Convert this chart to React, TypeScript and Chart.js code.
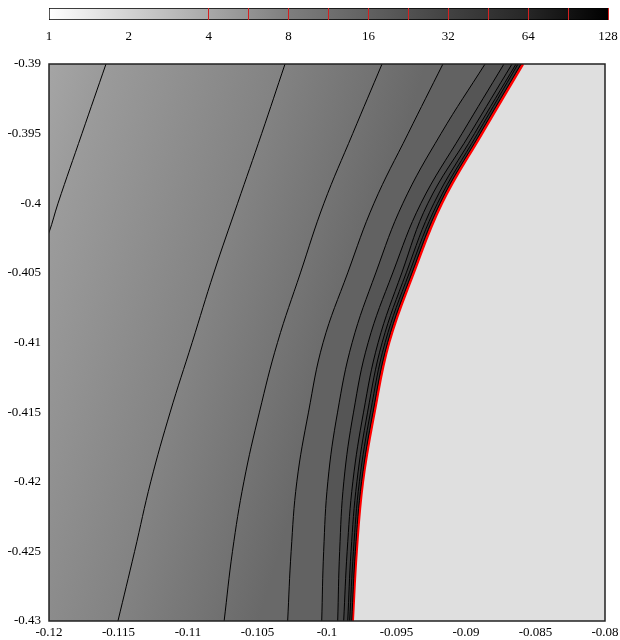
import React, { useEffect, useRef } from 'react';
import { Chart, registerables } from 'chart.js';

Chart.register(...registerables);

// ---------- data ----------
// y positions (shared) at which the contour x-positions were read
const Y_LEVELS = [-0.39, -0.395, -0.4, -0.405, -0.41, -0.415, -0.42, -0.425, -0.43];

// contour level values (colour-bar units), left to right
const CONTOUR_LEVELS = [4, 5.657, 8, 11.31, 16, 22.63, 32, 45.25, 64, 90.51];

// contour A leaves the plot through the left edge
const CONTOUR_A_Y = [-0.39, -0.395, -0.4, -0.4021, -0.4035];
const CONTOUR_A_X = [-0.1159, -0.11763, -0.11935, -0.12, -0.1206];
const CONTOUR_B_X = [-0.10302, -0.1047, -0.10643, -0.10814, -0.1097, -0.11128, -0.11268, -0.11384, -0.11504];
const CONTOUR_C_X = [-0.09604, -0.09815, -0.10022, -0.10191, -0.10356, -0.10486, -0.10598, -0.1068, -0.1074];
const CONTOUR_D_X = [-0.09166, -0.09417, -0.09662, -0.09851, -0.10028, -0.10133, -0.10217, -0.10258, -0.10283];
const CONTOUR_E_X = [-0.08863, -0.0918, -0.09454, -0.09649, -0.09819, -0.09924, -0.09994, -0.10024, -0.10038];
const CONTOUR_F_X = [-0.08727, -0.09029, -0.09324, -0.09527, -0.09704, -0.09809, -0.09879, -0.09909, -0.09923];
const CONTOUR_G_X = [-0.08669, -0.08971, -0.09274, -0.09462, -0.09632, -0.09737, -0.09814, -0.09855, -0.0988];
const CONTOUR_H_X = [-0.0864, -0.08939, -0.09231, -0.0943, -0.09603, -0.09708, -0.09785, -0.09827, -0.09851];
const CONTOUR_I_X = [-0.08626, -0.08917, -0.09205, -0.09408, -0.09582, -0.09687, -0.09767, -0.0981, -0.09837];
const CONTOUR_J_X = [-0.08604, -0.08899, -0.09187, -0.09389, -0.09564, -0.09669, -0.09751, -0.09796, -0.09822];
// red boundary of the defined region
const BOUNDARY_X = [-0.0859, -0.08885, -0.09173, -0.09376, -0.09553, -0.09658, -0.09742, -0.09787, -0.09815];

// colour bar
const CB_MIN = 1;
const CB_MAX = 128;
const CB_LABELS = [1, 2, 4, 8, 16, 32, 64, 128];
const CB_TICKS = [1, 1.414, 2, 2.828, 4, 5.657, 8, 11.31, 16, 22.63, 32, 45.25, 64, 90.51, 128];
const CB_STOP_VALUES = [1, 2, 4, 8, 16, 32, 64, 128];
const CB_STOP_GRAYS = [255, 210, 168, 126, 97, 66, 38, 0];

// ---------- styles ----------
const FONT = { family: "'Liberation Serif', 'Times New Roman', serif", size: 13 };
const SHADE_COLORS = ['#a5a5a5', '#9b9b9b', '#838383', '#737373', '#696969'];
const BAND_SOLIDS = ['#626262', '#555555', '#4a4a4a', '#424242', '#3b3b3b', '#353535', '#2e2e2e'];

const CONTOURS = [
  { xs: CONTOUR_A_X, ys: CONTOUR_A_Y },
  { xs: CONTOUR_B_X, ys: Y_LEVELS },
  { xs: CONTOUR_C_X, ys: Y_LEVELS },
  { xs: CONTOUR_D_X, ys: Y_LEVELS },
  { xs: CONTOUR_E_X, ys: Y_LEVELS },
  { xs: CONTOUR_F_X, ys: Y_LEVELS },
  { xs: CONTOUR_G_X, ys: Y_LEVELS },
  { xs: CONTOUR_H_X, ys: Y_LEVELS },
  { xs: CONTOUR_I_X, ys: Y_LEVELS },
  { xs: CONTOUR_J_X, ys: Y_LEVELS },
  { xs: BOUNDARY_X, ys: Y_LEVELS },
];

function shadeGradient(chart: any): any {
  const area = chart.chartArea;
  const sx = chart.scales && chart.scales.x;
  const sy = chart.scales && chart.scales.y;
  if (!area || !sx || !sy) return SHADE_COLORS[2];
  const px = (x: number, y: number) => [sx.getPixelForValue(x), sy.getPixelForValue(y)];
  const b0 = px(CONTOUR_B_X[0], Y_LEVELS[0]);
  const b1 = px(CONTOUR_B_X[CONTOUR_B_X.length - 1], Y_LEVELS[Y_LEVELS.length - 1]);
  let dx = b1[1] - b0[1];
  let dy = -(b1[0] - b0[0]);
  const len = Math.hypot(dx, dy) || 1;
  dx /= len;
  dy /= len;
  const proj = (p: number[]) => p[0] * dx + p[1] * dy;
  const s0 = proj([area.left, area.top]);
  const avgProj = (c: { xs: number[]; ys: number[] }) => {
    let sum = 0;
    let n = 0;
    c.xs.forEach((x, i) => {
      if (x >= -0.12) {
        sum += proj(px(x, c.ys[i]));
        n++;
      }
    });
    return n ? sum / n : s0;
  };
  const stops = [s0, avgProj(CONTOURS[0]), avgProj(CONTOURS[1]), avgProj(CONTOURS[2]), avgProj(CONTOURS[3])];
  const L = stops[4] - s0;
  const g = chart.ctx.createLinearGradient(area.left, area.top, area.left + dx * L, area.top + dy * L);
  stops.forEach((s, i) => g.addColorStop(Math.min(1, Math.max(0, (s - s0) / L)), SHADE_COLORS[i]));
  return g;
}

function bandColor(index: number) {
  return (ctx: any) => (index <= 3 ? shadeGradient(ctx.chart) : BAND_SOLIDS[index - 4]);
}

function cbGradient(ctx: any): any {
  const chart = ctx.chart;
  const area = chart.chartArea;
  const sx = chart.scales && chart.scales.x;
  if (!area || !sx) return '#888';
  const g = chart.ctx.createLinearGradient(area.left, 0, area.right, 0);
  CB_STOP_VALUES.forEach((v, i) => {
    const t = (sx.getPixelForValue(v) - area.left) / (area.right - area.left);
    const c = CB_STOP_GRAYS[i];
    g.addColorStop(Math.min(1, Math.max(0, t)), `rgb(${c},${c},${c})`);
  });
  return g;
}

const fmt = (v: any) => String(parseFloat(Number(v).toFixed(4)));

const plotBackground = {
  id: 'plotBackground',
  beforeDatasetsDraw(chart: any) {
    const { ctx, chartArea: a } = chart;
    ctx.save();
    ctx.fillStyle = '#dfdfdf';
    ctx.fillRect(a.left, a.top, a.right - a.left, a.bottom - a.top);
    ctx.restore();
  },
};

const plotFrame = {
  id: 'plotFrame',
  afterDatasetsDraw(chart: any) {
    const { ctx, chartArea: a } = chart;
    ctx.save();
    ctx.strokeStyle = '#222';
    ctx.lineWidth = 1.5;
    ctx.strokeRect(a.left, a.top, a.right - a.left, a.bottom - a.top);
    ctx.restore();
  },
};

const HIDDEN = 'rgba(0,0,0,0)';

export default function App() {
  const mainRef = useRef<HTMLCanvasElement>(null);
  const barRef = useRef<HTMLCanvasElement>(null);

  useEffect(() => {
    if (!mainRef.current || !barRef.current) return;

    const datasets = CONTOURS.map((c, i) => {
      const isBoundary = i === CONTOURS.length - 1;
      return {
        label: isBoundary ? 'boundary' : `level ${CONTOUR_LEVELS[i]}`,
        data: c.xs.map((x, k) => ({ x, y: c.ys[k] })),
        borderColor: isBoundary ? '#ff0000' : '#000000',
        borderWidth: isBoundary ? 2.5 : 1,
        pointRadius: 0,
        tension: 0.4,
        fill: { target: { value: -0.125 } },
        backgroundColor: bandColor(i),
      };
    });

    const main = new Chart(mainRef.current, {
      type: 'line',
      data: { datasets } as any,
      options: {
        responsive: false,
        animation: false,
        devicePixelRatio: 1,
        indexAxis: 'y',
        layout: { padding: { left: 0, right: 15, top: 64, bottom: 0 } },
        plugins: { legend: { display: false }, tooltip: { enabled: false } },
        scales: {
          x: {
            type: 'linear',
            min: -0.12,
            max: -0.08,
            position: 'bottom',
            grid: { drawOnChartArea: false, drawTicks: true, tickLength: 4, tickColor: HIDDEN, color: HIDDEN },
            border: { display: false },
            ticks: { stepSize: 0.005, padding: 0, maxRotation: 0, autoSkip: false, color: '#000', font: FONT, callback: fmt },
            afterFit: (s: any) => {
              s.height = 19;
            },
          },
          y: {
            type: 'linear',
            min: -0.43,
            max: -0.39,
            position: 'left',
            grid: { display: false, drawTicks: false },
            border: { display: false },
            ticks: { stepSize: 0.005, padding: 8, autoSkip: false, color: '#000', font: FONT, callback: fmt },
            afterFit: (s: any) => {
              s.width = 49;
            },
          },
        },
      } as any,
      plugins: [plotBackground, plotFrame],
    });

    const bar = new Chart(barRef.current, {
      type: 'bar',
      data: {
        labels: [''],
        datasets: [
          {
            data: [[CB_MIN, CB_MAX]],
            backgroundColor: cbGradient,
            borderColor: '#000',
            borderWidth: 1,
            borderSkipped: false,
            barPercentage: 1,
            categoryPercentage: 1,
          },
        ],
      } as any,
      options: {
        responsive: false,
        animation: false,
        devicePixelRatio: 1,
        indexAxis: 'y',
        layout: { padding: { left: 49, right: 12, top: 8, bottom: 0 } },
        plugins: { legend: { display: false }, tooltip: { enabled: false } },
        scales: {
          x: {
            type: 'logarithmic',
            min: CB_MIN,
            max: CB_MAX,
            position: 'bottom',
            afterBuildTicks: (s: any) => {
              s.ticks = CB_TICKS.map((v) => ({ value: v }));
            },
            ticks: {
              autoSkip: false,
              maxRotation: 0,
              padding: 0,
              color: '#000',
              font: FONT,
              callback: (v: any) => (CB_LABELS.includes(Number(v)) ? String(v) : ''),
            },
            grid: {
              z: 1,
              drawTicks: true,
              tickLength: 9,
              tickColor: HIDDEN,
              lineWidth: 1,
              color: (ctx: any) => (ctx.tick && ctx.tick.value >= 3.99 ? '#d42020' : HIDDEN),
            },
            border: { display: false },
            afterFit: (s: any) => {
              s.height = 30;
            },
          },
          y: { display: false },
        },
      } as any,
    });

    return () => {
      main.destroy();
      bar.destroy();
    };
  }, []);

  return (
    <div style={{ position: 'absolute', left: 0, top: 0, width: 620, height: 640, background: '#fff' }}>
      <canvas ref={mainRef} width={620} height={640} style={{ position: 'absolute', left: 0, top: 0 }} />
      <canvas ref={barRef} width={620} height={50} style={{ position: 'absolute', left: 0, top: 0 }} />
    </div>
  );
}
